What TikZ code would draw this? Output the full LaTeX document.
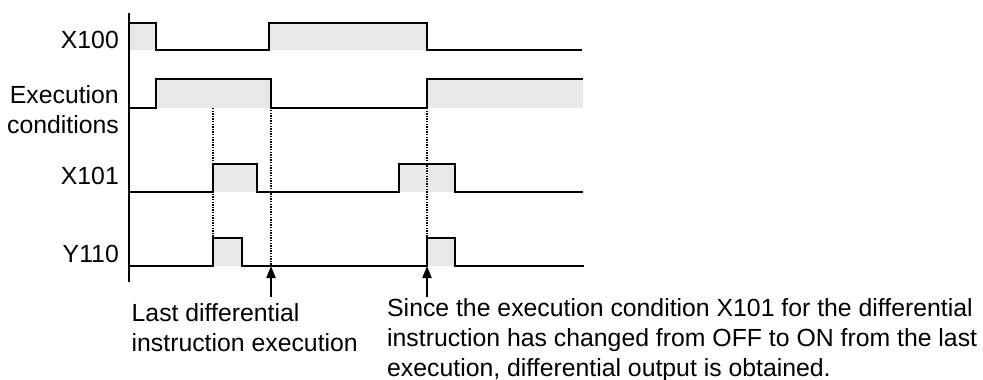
\documentclass[tikz,border=0pt]{standalone}
\usepackage{fontspec}
\setmainfont{Liberation Sans}
\usetikzlibrary{arrows.meta}

\definecolor{pulsegrey}{RGB}{232,232,232}

\begin{document}
\begin{tikzpicture}[
        x=1pt, y=-1pt,
        sig/.style={anchor=base east, inner sep=0pt, align=right, font=\fontsize{24.8}{30}\selectfont},
        note/.style={anchor=base west, inner sep=0pt, align=left, font=\fontsize{24.8}{30}\selectfont},
        wave/.style={line width=2pt, line join=miter},
        pulse/.style={fill=pulsegrey},
        guide/.style={line width=1.3pt, dash pattern=on 1.3pt off 1.3pt},
        arrow/.style={-{Triangle[length=12pt,width=9pt]}, line width=2pt}
    ]
    \useasboundingbox (0,0) rectangle (983,380);

    % signal names (multi-line nodes sit on their last baseline)
    \node[sig] (x100) at (119,48) {X100};
    \node[sig] (exec) at (119,133) {Execution\\conditions};
    \node[sig] (x101) at (119,184) {X101};
    \node[sig] (y110) at (119,262) {Y110};

    % shaded ON periods
    \fill[pulse] (129,23) rectangle (156,50);
    \fill[pulse] (269,23) rectangle (427,50);
    \fill[pulse] (156,79) rectangle (271,108);
    \fill[pulse] (427,79) rectangle (583,108);
    \fill[pulse] (213,164) rectangle (256.5,192);
    \fill[pulse] (398.5,164) rectangle (455,192);
    \fill[pulse] (213,238) rectangle (242,266);
    \fill[pulse] (427,238) rectangle (455,266);

    % time axis
    \draw[line width=1.6pt] (129,13) -- (129,282);

    % waveforms
    \draw[wave] (129,23) -- (156,23) -- (156,50) -- (269,50) -- (269,23) -- (427,23) -- (427,50) -- (582,50);
    \draw[wave] (129,108) -- (156,108) -- (156,79) -- (271,79) -- (271,108) -- (427,108) -- (427,79) -- (583,79);
    \draw[wave] (129,192) -- (213,192) -- (213,164) -- (256.5,164) -- (256.5,192) -- (398.5,192) -- (398.5,164) -- (455,164) -- (455,192) -- (583,192);
    \draw[wave] (129,266) -- (213,266) -- (213,238) -- (242,238) -- (242,266) -- (427,266) -- (427,238) -- (455,238) -- (455,266) -- (584,266);

    % edge markers
    \coordinate (firsttop) at (213,108);
    \coordinate (firstbot) at (213,238);
    \coordinate (lasttop) at (271,97);
    \coordinate (lastexec) at (271,266);
    \coordinate (lastfoot) at (271,297);
    \coordinate (risetop) at (427,108);
    \coordinate (riseedge) at (427,238);
    \coordinate (riseout) at (427,266);
    \coordinate (risefoot) at (427,297);

    \draw[guide] (firsttop) -- (firstbot);
    \draw[guide] (lasttop) -- (lastexec);
    \draw[guide] (risetop) -- (riseedge);

    \draw[arrow] (lastfoot) -- (lastexec);
    \draw[arrow] (risefoot) -- (riseout);

    % notes
    \node[note] (lastnote) at (131.5,351.7) {Last differential\\instruction execution};
    \node[note] (risenote) at (387,376.7) {Since the execution condition X101 for the differential\\instruction has changed from OFF to ON from the last\\execution, differential output is obtained.};

\end{tikzpicture}
\end{document}
